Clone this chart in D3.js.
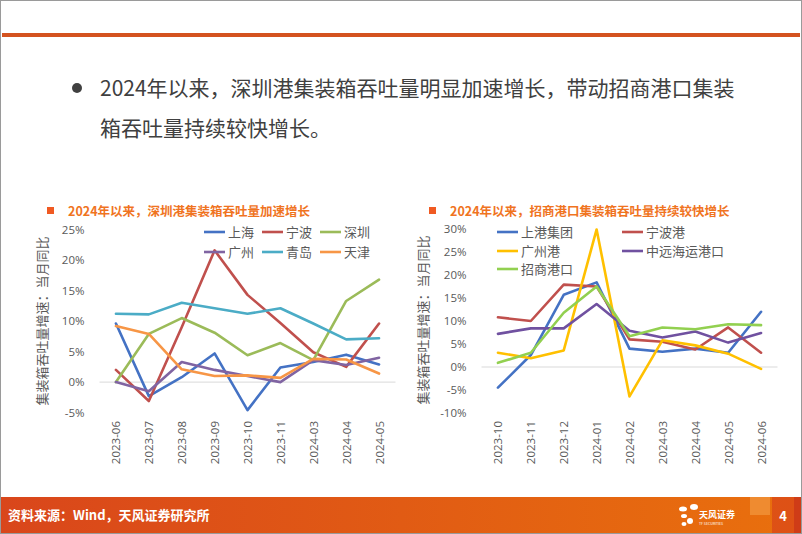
<!DOCTYPE html>
<html><head><meta charset="utf-8">
<script src="https://cdn.jsdelivr.net/npm/d3@7"></script>
<style>html,body{margin:0;padding:0;background:#fff;}svg{display:block;font-family:"Microsoft YaHei","Noto Sans CJK SC",sans-serif;}</style>
</head><body>
<svg id="c" width="802" height="534"></svg>
<script>
// ---- data ----
const leftCategories = ["2023-06","2023-07","2023-08","2023-09","2023-10","2023-11","2024-03","2024-04","2024-05"];
const leftShanghai = [9.6,-2.3,0.8,4.7,-4.6,2.4,3.3,4.5,2.9];
const leftNingbo   = [2.0,-3.1,9.0,21.6,14.3,9.7,4.9,2.5,9.6];
const leftShenzhen = [0.0,7.9,10.5,8.1,4.4,6.4,3.6,13.3,16.8];
const leftGuangzhou= [0.0,-1.5,3.3,2.0,1.0,0.0,3.6,2.8,4.0];
const leftQingdao  = [11.2,11.1,13.0,12.1,11.2,12.1,9.6,7.0,7.2];
const leftTianjin  = [9.2,7.9,2.1,1.0,1.1,0.7,3.8,3.7,1.4];
const leftNames = ["上海","宁波","深圳","广州","青岛","天津"];
const leftTicks = [-5,0,5,10,15,20,25];

const rightCategories = ["2023-10","2023-11","2023-12","2024-01","2024-02","2024-03","2024-04","2024-05","2024-06"];
const rightSIPG    = [-4.5,2.6,15.7,18.4,4.0,3.3,4.0,3.1,12.0];
const rightNingbo  = [10.8,10.0,17.9,17.5,6.0,5.5,3.8,8.6,3.1];
const rightGuangzhou=[3.1,1.9,3.6,29.9,-6.4,5.8,4.7,2.9,-0.4];
const rightCosco   = [7.2,8.4,8.4,13.7,7.9,6.4,7.7,5.3,7.4];
const rightCMPort  = [0.9,3.1,11.8,17.5,6.7,8.6,8.2,9.3,9.1];
const rightNames = ["上港集团","宁波港","广州港","中远海运港口","招商港口"];
const rightTicks = [-10,-5,0,5,10,15,20,25,30];

const yTitle = "集装箱吞吐量增速：当月同比";

const svg = d3.select("#c");
const grey = "#595959";

// frame
svg.append("rect").attr("x",0.5).attr("y",0.5).attr("width",801).attr("height",533)
  .attr("fill","#fff").attr("stroke","#9a9a9a");
// top orange line
svg.append("rect").attr("x",2).attr("y",33).attr("width",798).attr("height",4).attr("fill","#D4531F");

// bullet
svg.append("circle").attr("cx",77).attr("cy",88).attr("r",5).attr("fill","#404040");
svg.append("text").attr("x",100).attr("y",95.5).attr("font-size",21).attr("fill","#404040")
  .text("2024年以来，深圳港集装箱吞吐量明显加速增长，带动招商港口集装");
svg.append("text").attr("x",100).attr("y",135.5).attr("font-size",21).attr("fill","#404040")
  .text("箱吞吐量持续较快增长。");

// footer
const defs = svg.append("defs");
const grad = defs.append("linearGradient").attr("id","fg").attr("x1","0").attr("x2","1");
grad.append("stop").attr("offset","0").attr("stop-color","#D9461B");
grad.append("stop").attr("offset","1").attr("stop-color","#E9700D");
svg.append("rect").attr("x",1).attr("y",497).attr("width",800).attr("height",36).attr("fill","url(#fg)");
svg.append("rect").attr("x",750).attr("y",497).attr("width",20).attr("height",18).attr("fill","#F0923A").attr("opacity",0.8);
svg.append("rect").attr("x",772).attr("y",497).attr("width",22).attr("height",36).attr("fill","#D9441A").attr("opacity",0.7);
svg.append("rect").attr("x",794).attr("y",497).attr("width",7).attr("height",36).attr("fill","#C8301A").attr("opacity",0.8);
svg.append("text").attr("x",8).attr("y",520).attr("font-size",13).attr("font-weight","bold").attr("fill","#fff")
  .text("资料来源：Wind，天风证券研究所");
svg.append("text").attr("x",783).attr("y",521).attr("font-size",13).attr("font-weight","bold").attr("fill","#fff")
  .attr("text-anchor","middle").text("4");
// logo
const logo = svg.append("g").attr("fill","#fff");
logo.append("ellipse").attr("cx",683).attr("cy",509).attr("rx",4).attr("ry",2.5);
logo.append("ellipse").attr("cx",694).attr("cy",507).attr("rx",4).attr("ry",3);
logo.append("ellipse").attr("cx",684).attr("cy",516).attr("rx",3).attr("ry",2);
logo.append("ellipse").attr("cx",690).attr("cy",521).attr("rx",3).attr("ry",3);
logo.append("ellipse").attr("cx",684).attr("cy",524).attr("rx",2.5).attr("ry",2);
logo.append("text").attr("x",699).attr("y",518).attr("font-size",9).attr("font-weight","bold").text("天风证券");
logo.append("text").attr("x",699).attr("y",525).attr("font-size",3.5).text("TF SECURITIES");

function drawChart(cfg){
  const g = svg.append("g");
  // title
  g.append("rect").attr("x",cfg.tx-21).attr("y",207).attr("width",7).attr("height",7).attr("fill","#F05A22");
  g.append("text").attr("x",cfg.tx).attr("y",215.5).attr("font-size",12.5).attr("font-weight","bold")
    .attr("fill","#F0741F").text(cfg.title);

  const x = d3.scalePoint().domain(cfg.categories).range(cfg.xr).padding(0.5);
  const y = d3.scaleLinear().domain(cfg.ydom).range(cfg.yr);

  // zero line
  g.append("line").attr("x1",cfg.xr[0]).attr("x2",cfg.xr[1]).attr("y1",y(0)).attr("y2",y(0))
    .attr("stroke","#d9d9d9").attr("stroke-width",1);

  // y axis
  const ya = g.append("g").attr("transform",`translate(${cfg.xr[0]-12},0)`)
    .call(d3.axisLeft(y).tickValues(cfg.ticks).tickSize(0).tickFormat(d=>d+"%"));
  ya.select(".domain").remove();
  ya.selectAll("text").attr("fill",grey).attr("font-size",11.5).attr("font-family","Open Sans, sans-serif");

  // x axis
  const xa = g.append("g").attr("transform",`translate(0,${cfg.xLabelY})`)
    .call(d3.axisBottom(x).tickSize(0));
  xa.select(".domain").remove();
  xa.selectAll("text").attr("fill",grey).attr("font-size",11.5).attr("font-family","Open Sans, sans-serif")
    .attr("transform","rotate(-90)").attr("text-anchor","end").attr("dx",0).attr("dy","0.35em").attr("x",0).attr("y",0);

  // y title
  g.append("text").attr("transform",`translate(${cfg.ytx},${cfg.yty}) rotate(-90)`)
    .attr("text-anchor","middle").attr("font-size",13).attr("fill",grey).text(yTitle);

  // lines
  const line = d3.line().x((d,i)=>x(cfg.categories[i])).y(d=>y(d));
  cfg.series.forEach(s=>{
    g.append("path").datum(s.values).attr("d",line).attr("fill","none")
      .attr("stroke",s.color).attr("stroke-width",2.6).attr("stroke-linejoin","round").attr("stroke-linecap","round");
  });

  // legend
  cfg.series.forEach((s,i)=>{
    const p = cfg.legendPos[i];
    g.append("line").attr("x1",p[0]).attr("x2",p[0]+21).attr("y1",p[1]).attr("y2",p[1])
      .attr("stroke",s.color).attr("stroke-width",2.6);
    g.append("text").attr("x",p[0]+24).attr("y",p[1]+4.5).attr("font-size",13).attr("fill",grey).text(s.name);
  });
}

drawChart({
  title:"2024年以来，深圳港集装箱吞吐量加速增长", tx:68,
  categories:leftCategories, xr:[99.5,395.5], ydom:[-5,25], yr:[412.6,229.6], ticks:leftTicks,
  xLabelY:421, ytx:47, yty:321,
  series:[
    {name:leftNames[0],values:leftShanghai,color:"#4472C4"},
    {name:leftNames[1],values:leftNingbo,color:"#C0504D"},
    {name:leftNames[2],values:leftShenzhen,color:"#9BBB59"},
    {name:leftNames[3],values:leftGuangzhou,color:"#8064A2"},
    {name:leftNames[4],values:leftQingdao,color:"#4BACC6"},
    {name:leftNames[5],values:leftTianjin,color:"#F79646"}
  ],
  legendPos:[[204,232],[262,232],[320,232],[204,252],[262,252],[320,252]]
});

drawChart({
  title:"2024年以来，招商港口集装箱吞吐量持续较快增长", tx:450,
  categories:rightCategories, xr:[481.5,777.5], ydom:[-10,30], yr:[413,229], ticks:rightTicks,
  xLabelY:421, ytx:428, yty:320,
  series:[
    {name:rightNames[0],values:rightSIPG,color:"#4472C4"},
    {name:rightNames[1],values:rightNingbo,color:"#C0504D"},
    {name:rightNames[2],values:rightGuangzhou,color:"#FFC000"},
    {name:rightNames[3],values:rightCosco,color:"#7051A0"},
    {name:rightNames[4],values:rightCMPort,color:"#92D050"}
  ],
  legendPos:[[497,232],[622,232],[497,251],[622,251],[497,269]]
});
</script>
</body></html>
